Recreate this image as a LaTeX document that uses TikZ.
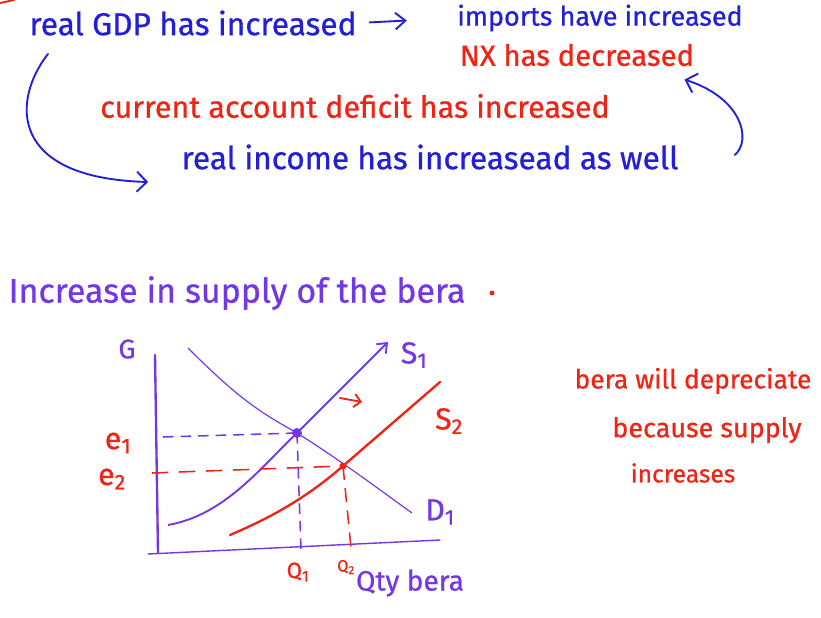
\documentclass[tikz,border=0pt]{standalone}
\usepackage{fontspec}
\setmainfont{Fira Sans}[FakeBold=0.7]
\usetikzlibrary{positioning,arrows.meta}
\definecolor{inkblue}{RGB}{35,30,215}
\definecolor{inkred}{RGB}{240,35,20}
\definecolor{inkpurple}{RGB}{115,55,230}
\newcommand{\fs}[1]{\fontsize{#1}{#1}\selectfont}

\begin{document}
\begin{tikzpicture}[x=0.03cm, y=-0.03cm, every node/.style={inner sep=1pt},
    lbl/.style={font=\fs{26}},
    pen/.style={line width=1.6pt, line cap=round},
    barb/.style={-{Straight Barb[length=3mm,width=6mm]}}]
      \useasboundingbox[fill=white] (0,0) rectangle (821,617);
      \draw[inkred,pen] (0,3) -- (14,0);
      % top notes
      \node[font=\fs{27},text=inkblue] (gdp) at (193,23) {real GDP has increased};
      \node[font=\fs{23},text=inkblue] (imp) at (600,18) {imports have increased};
      \node[font=\fs{25},text=inkred] (nx) at (577,55) {NX has decreased};
      \node[font=\fs{26},text=inkred] (cad) at (355,106) {current account deficit has increased};
      \node[font=\fs{27},text=inkblue] (inc) at (430,157) {real income has increasead as well};
      \draw[-{Straight Barb[length=3mm,width=5mm]},inkblue,pen,shorten <=10pt,shorten >=42pt] (gdp.east) -- (imp.west);
      \draw[barb,inkblue,pen] ([shift={(-145,17)}]gdp.south) .. controls (12,100) and (8,178) .. ([shift={(-32,25)}]inc.west);
      \draw[barb,inkblue,pen] ([shift={(55,-2)}]inc.east) .. controls (752,140) and (742,98) .. ([shift={(-11,12)}]nx.south east);
      % the graph
      \node[font=\fs{29},text=inkpurple] (title) at (237,293) {Increase in supply of the bera};
      \fill[inkred] (492,293) circle (2.5);
      \draw[inkpurple,line width=2pt,line cap=round] (155,355) -- (158,553);
      \draw[inkpurple,line width=1.2pt,line cap=round] (148,554) -- (440,540);
      \node[font=\fs{23},text=inkpurple] (g) at (127,349) {G};
      \coordinate (e1pt) at (297,433);
      \coordinate (e2pt) at (343,466);
      \draw[inkpurple,line width=1pt] (188,348) .. controls (240,400) and (260,412) .. (e1pt) .. controls (340,460) and (380,490) .. (412,513);
      \draw[inkpurple,line width=1.6pt,-{Straight Barb[length=2.5mm,width=4mm]}] (168,525) .. controls (225,515) and (261,467) .. (e1pt) -- (388,342);
      \draw[inkred,line width=2pt,line cap=round] (230,535) .. controls (265,520) and (303,501) .. (e2pt) -- (440,382);
      \draw[inkred,pen,-{Straight Barb[length=2mm,width=4mm]}] (340,398) -- (362,402);
      \draw[inkpurple,line width=1.3pt,dash pattern=on 9pt off 6pt] (163,437) -- (e1pt);
      \draw[inkpurple,line width=1.3pt,dash pattern=on 9pt off 6pt] (e1pt) -- (301,550);
      \draw[inkred,line width=1.3pt,dash pattern=on 14pt off 9pt] (152,473) -- (e2pt);
      \draw[inkred,line width=1.3pt,dash pattern=on 12pt off 7pt] (e2pt) -- (351,548);
      \fill[inkpurple] (e1pt) circle (5);
      \fill[inkred] (e2pt) circle (3.5);
      \node[lbl,text=inkpurple] (s1) at (414,355) {S\textsubscript{1}};
      \node[lbl,text=inkred] (s2) at (449,421) {S\textsubscript{2}};
      \node[lbl,text=inkpurple] (d1) at (440,512) {D\textsubscript{1}};
      \node[font=\fs{26},text=inkred] (e1) at (118,443) {e\textsubscript{1}};
      \node[font=\fs{26},text=inkred] (e2) at (112,479) {e\textsubscript{2}};
      \node[font=\fs{19},text=inkred] (q1) at (298,572) {Q\textsubscript{1}};
      \node[font=\fs{14},text=inkred] (q2) at (346,567) {Q\textsubscript{2}};
      \node[font=\fs{24},text=inkpurple] (qty) at (410,583) {Qty bera};
      % explanation
      \node[font=\fs{22.5},text=inkred] (dep) at (693,381) {bera will depreciate};
      \node[font=\fs{23},text=inkred] (bec) at (707,430) {because supply};
      \node[font=\fs{21},text=inkred] (incr) at (683,473) {increases};
    \end{tikzpicture}
\end{document}
